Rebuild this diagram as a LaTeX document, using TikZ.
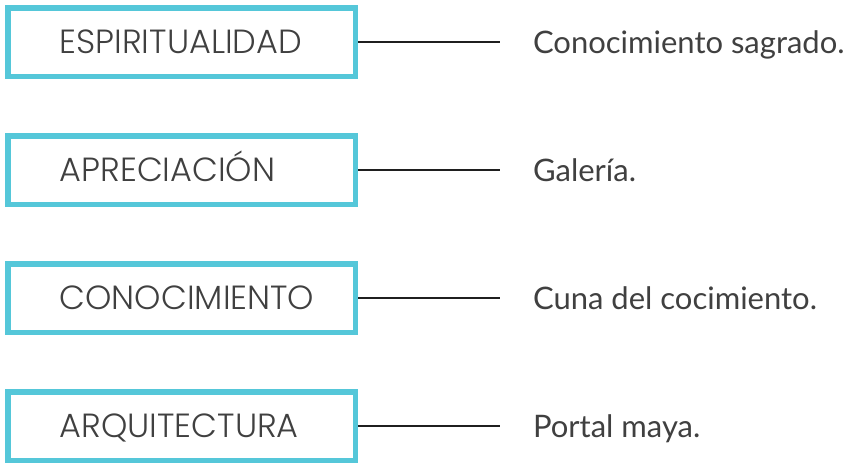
\documentclass[tikz,border=0pt]{standalone}
\usepackage{fontspec}
\setmainfont{Lato}
\newfontfamily\capsfont{Poppins Light}
\usetikzlibrary{positioning}
\definecolor{boxcyan}{HTML}{55C7D9}
\definecolor{inkgray}{HTML}{404040}
\tikzset{
  area/.style={rectangle, draw=boxcyan, line width=5.5pt, minimum width=347.5pt, minimum height=68.5pt, inner xsep=52pt, text width=243.5pt, align=left, text height=23.5pt, text depth=0pt, font=\capsfont\fontsize{33.5}{33.5}\selectfont, text=inkgray},
  note/.style={inner xsep=33pt, inner ysep=0pt, outer sep=0pt, text height=22pt, text depth=0pt, font=\fontsize{31}{31}\selectfont, text=inkgray},
  link/.style={line width=2.5pt, draw=black!88}
}

\begin{document}
\begin{tikzpicture}[node distance=54pt and 142pt]
  \useasboundingbox (0,-464pt) rectangle (858pt,0);
  % left column
  \node[area] (esp) at (181.5pt,-42pt) {ESPIRITUALIDAD};
  \node[area, below=of esp] (apr) {APRECIACIÓN};
  \node[area, below=of apr] (con) {CONOCIMIENTO};
  \node[area, below=of con] (arq) {ARQUITECTURA};
  % right column
  \node[note, right=of esp] (espnote) {Conocimiento sagrado.};
  \node[note, right=of apr] (aprnote) {Galería.};
  \node[note, right=of con] (connote) {Cuna del cocimiento.};
  \node[note, right=of arq] (arqnote) {Portal maya.};
  \draw[link] (esp) -- (espnote);
  \draw[link] (apr) -- (aprnote);
  \draw[link] (con) -- (connote);
  \draw[link] (arq) -- (arqnote);
\end{tikzpicture}
\end{document}
